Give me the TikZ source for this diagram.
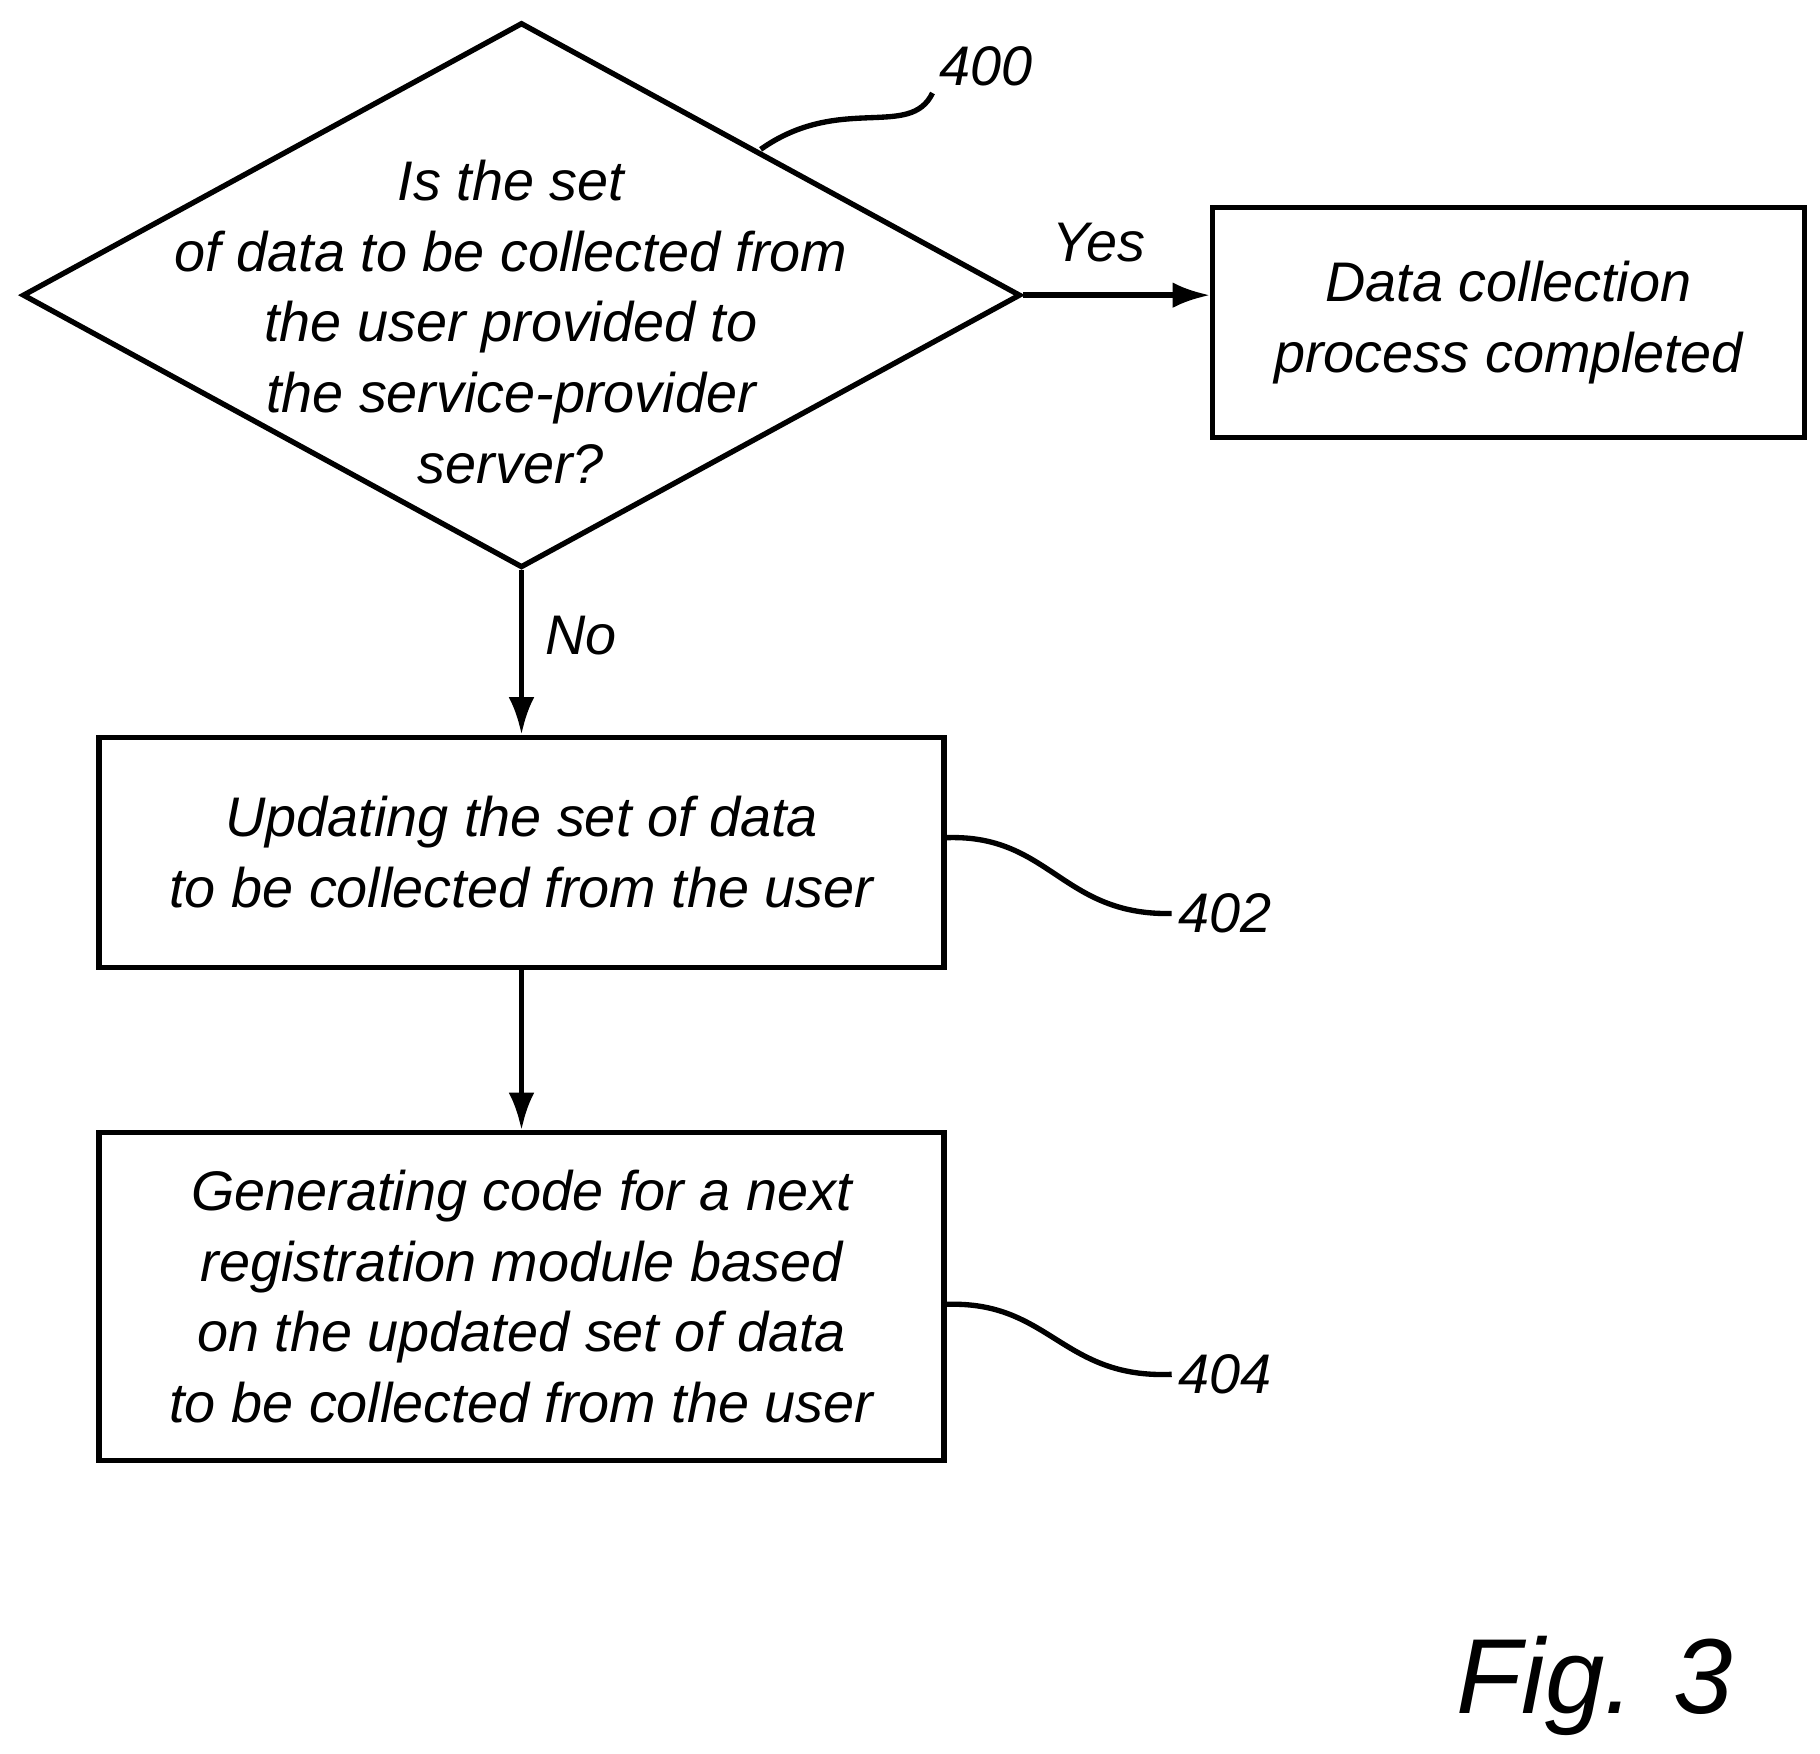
\documentclass[tikz,border=0pt]{standalone}
\usepackage{fontspec}
\setmainfont{Liberation Sans}
\usetikzlibrary{arrows.meta,shapes.geometric}
\begin{document}
\begin{tikzpicture}[x=0.01cm,y=-0.01cm,line width=1.3pt,
	font=\itshape\fontsize{13.6}{17.2}\selectfont,
	box/.style={rectangle, draw, align=center, inner sep=0pt},
	lbl/.style={inner sep=1pt},
	flow/.style={-{Latex[length=3.2mm,width=2.2mm]}}]
		\useasboundingbox (0,0) rectangle (1560,1503);
		
		\node (decide) [diamond, draw, minimum width=8.55cm, minimum height=4.67cm, inner sep=0pt] at (447,253) {};
		\node (decidetext) [align=center, inner sep=0pt] at (438,276) {Is the set\\of data to be collected from\\the user provided to\\the service-provider\\server?};
		
		\node (rectdone) [box, minimum width=5.07cm, minimum height=1.97cm] at (1293,276.5) {Data collection\\process completed};
		
		\node (rectupdate) [box, minimum width=7.24cm, minimum height=1.97cm] at (447,730.5) {Updating the set of data\\to be collected from the user};
		
		\node (rectcode) [box, minimum width=7.24cm, minimum height=2.81cm] at (447,1111.5) {Generating code for a next\\registration module based\\on the updated set of data\\to be collected from the user};
		
		\draw [flow] (decide.east) -- (decide.east -| rectdone.west);
		\node (yes) [lbl] at (942,208) {Yes};
		\draw [flow] (decide.south) -- (rectupdate.north);
		\node (no) [lbl] at (498,545) {No};
		\draw [flow] (rectupdate) -- (rectcode);
		
		\node (ref400) [lbl] at (845,57) {400};
		\coordinate (tip400) at (652,128);
		\draw (tip400) .. controls (720,80) and (780,120) .. (ref400.south west);
		\node (ref402) [lbl] at (1050,783) {402};
		\draw (rectupdate.east |- 0,718) .. controls (900,715) and (910,785) .. (ref402.west);
		\node (ref404) [lbl] at (1050,1178) {404};
		\draw (rectcode.east |- 0,1118) .. controls (900,1115) and (910,1182) .. (ref404.west);
		
		\node (fig) [lbl, font=\itshape\fontsize{26}{32}\selectfont] at (1367,1445) {Fig. 3};
		
\end{tikzpicture}
\end{document}
